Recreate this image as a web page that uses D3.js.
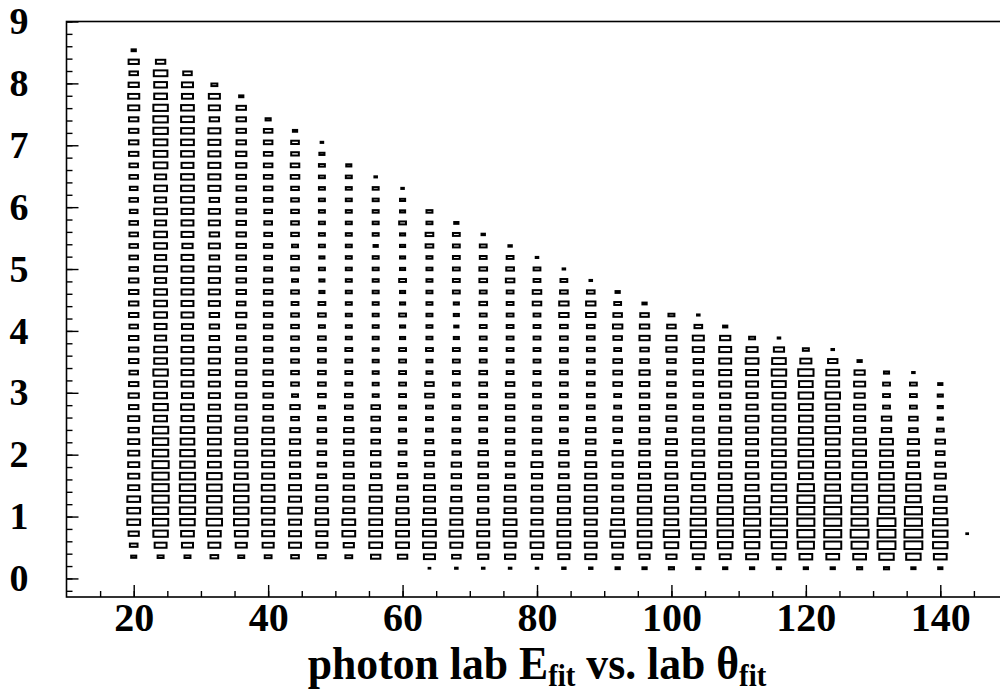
<!DOCTYPE html>
<html><head><meta charset="utf-8">
<script src="https://cdn.jsdelivr.net/npm/d3@7"></script>
<style>body{margin:0;background:#fff}svg{display:block}</style>
</head><body><svg id="c" width="1000" height="691"></svg>
<script>
// ---- data: photon lab theta_fit (x, bin centers) vs lab E_fit (y, bins of a 50-bin axis over [-0.3, 9])
const thetaCenters = [20,24,28,32,36,40,44,48,52,56,60,64,68,72,76,80,84,88,92,96,100,104,108,112,116,120,124,128,132,136,140,144];
const firstEBin = [3,3,3,3,3,3,3,3,3,3,3,2,2,2,2,2,2,2,2,2,2,2,2,2,2,2,2,2,2,2,2,5];
const c20 = [36,81,144,225,225,225,169,169,169,169,169,144,169,121,144,121,100,121,121,121,100,121,121,121,121,100,100,100,100,100,81,100,81,100,100,121,121,121,121,169,169,144,100,144,25];
const c24 = [49,196,289,324,324,361,361,361,361,324,324,324,225,289,225,225,289,225,225,169,196,225,225,225,169,225,169,225,225,169,225,169,225,169,256,256,256,289,289,289,225,225,256,121];
const c28 = [49,169,225,289,324,324,324,324,289,289,256,256,196,225,169,196,196,196,196,169,169,196,196,196,196,196,196,144,196,196,196,225,225,225,196,225,225,225,225,225,169,169,100];
const c32 = [81,196,225,324,289,289,289,289,225,225,225,225,225,169,169,169,169,169,169,121,121,121,169,169,169,169,121,169,121,169,169,121,196,196,196,196,196,196,121,169,169,49];
const c36 = [49,169,225,289,289,289,289,225,225,196,196,196,144,169,144,144,144,144,144,100,100,144,100,121,121,121,121,121,121,121,121,121,121,121,144,144,121,121,121,121,25];
const c40 = [64,169,196,196,225,225,225,196,196,196,196,169,121,121,121,121,121,100,100,100,100,100,100,100,100,81,81,100,81,81,81,100,100,100,100,100,100,100,36];
const c44 = [81,196,196,196,256,196,196,144,144,144,144,121,81,121,49,81,81,81,81,81,81,81,64,81,49,81,81,49,81,81,81,81,81,100,100,81,81,25];
const c48 = [81,169,169,225,196,169,169,100,100,100,100,100,81,49,81,81,81,81,81,81,49,81,64,36,36,49,36,49,49,49,49,49,49,49,49,36,9];
const c52 = [64,144,225,225,169,169,144,144,121,121,121,121,81,81,81,64,64,64,64,49,49,49,49,49,49,49,49,49,49,49,49,49,49,49,36];
const c56 = [121,225,225,225,225,196,196,121,121,121,100,100,100,100,49,49,49,49,49,49,49,49,49,49,49,49,49,25,49,49,49,49,49,9];
const c60 = [121,225,225,225,196,169,121,121,81,81,81,64,64,64,64,64,64,64,64,36,36,64,36,36,64,36,36,36,36,64,36,36,9];
const c64 = [4,169,225,225,225,169,169,169,121,100,121,81,64,64,64,100,100,49,49,64,49,49,49,49,49,49,49,49,81,81,49,49];
const c68 = [9,100,196,256,196,196,144,121,121,121,81,81,81,64,81,64,64,64,64,64,36,25,36,36,64,64,64,64,64,64,25];
const c72 = [9,144,196,196,196,144,144,144,121,121,121,81,81,81,81,81,81,81,64,64,64,64,64,81,64,81,81,64,64,16];
const c76 = [9,144,169,225,225,169,169,144,100,100,100,100,100,100,100,100,100,64,64,64,64,64,64,64,64,100,81,64,16];
const c80 = [9,144,225,225,169,169,169,144,144,169,100,100,100,100,81,81,81,64,64,64,64,64,64,100,100,64,64,9];
const c84 = [16,169,225,225,225,196,196,169,121,121,121,81,81,81,81,81,81,81,81,81,81,81,121,121,81,64,9];
const c88 = [16,169,196,196,196,225,196,196,169,169,121,121,121,81,81,81,81,81,81,81,81,81,121,121,81,9];
const c92 = [25,144,169,289,225,169,169,144,144,144,144,64,100,100,64,64,100,100,100,64,100,121,100,64,25];
const c96 = [25,144,256,256,256,256,225,225,169,169,144,144,121,121,121,121,121,144,100,100,144,121,100,25];
const c100 = [36,144,256,324,256,256,225,169,196,169,144,169,100,144,100,100,100,100,100,144,144,100,49];
const c104 = [25,169,289,324,324,289,256,196,256,169,196,169,169,121,121,121,121,121,121,169,169,81,9];
const c108 = [25,169,289,324,324,324,289,225,225,196,196,196,196,144,144,144,196,196,196,196,144,25];
const c112 = [25,196,289,324,361,324,289,225,225,196,196,196,196,225,169,169,196,196,225,169,49];
const c116 = [25,225,289,361,361,361,289,289,256,256,256,256,225,225,225,225,256,289,256,144,9];
const c120 = [25,225,361,400,400,400,400,361,256,289,289,289,256,256,256,289,256,324,169,49];
const c124 = [25,225,400,400,400,400,361,289,289,256,256,256,289,225,225,289,225,225,121,9];
const c128 = [36,225,361,441,361,361,324,289,289,225,225,225,169,169,169,144,169,144,25];
const c132 = [36,289,441,441,441,324,324,289,289,225,225,225,121,121,64,64,64,36];
const c136 = [25,289,441,441,400,400,289,289,256,169,169,169,100,100,64,64,64,9];
const c140 = [25,225,289,289,289,225,225,121,169,121,100,121,64,36,36,36,25];
const c144 = [4];
const columnCounts = [c20,c24,c28,c32,c36,c40,c44,c48,c52,c56,c60,c64,c68,c72,c76,c80,c84,c88,c92,c96,c100,c104,c108,c112,c116,c120,c124,c128,c132,c136,c140,c144];
const xTickValues = [20,40,60,80,100,120,140];
const yTickValues = [0,1,2,3,4,5,6,7,8,9];
const xDomain = [10,150], yDomain = [-0.3,9];
const nYBins = 50, thetaBinWidth = 4, zMax = 1000;

// ---- layout
const svg = d3.select("#c");
const L = 66.5, R = 1007.5, T = 21.5, B = 597;
const x = d3.scaleLinear().domain(xDomain).range([L,R]);
const y = d3.scaleLinear().domain(yDomain).range([B,T]);
const eBinWidth = (yDomain[1]-yDomain[0])/nYBins;
const binW = x(xDomain[0]+thetaBinWidth)-x(xDomain[0]);
const binH = y(yDomain[0])-y(yDomain[0]+eBinWidth);
const frac = d3.scaleSqrt().domain([0,zMax]).range([0,1]);
const SW = 2;

const cells = [];
columnCounts.forEach((arr,i)=>arr.forEach((c,j)=>{
  const k = firstEBin[i]+j;
  cells.push({theta:thetaCenters[i], e:yDomain[0]+(k+0.5)*eBinWidth, c});
}));

const bw = d=>Math.max(frac(d.c)*binW,0.3);
const bh = d=>Math.max(frac(d.c)*binH,0.3);
svg.append("g").selectAll("rect").data(cells).join("rect")
  .attr("x",d=>x(d.theta)-bw(d)/2)
  .attr("y",d=>y(d.e)-bh(d)/2)
  .attr("width",bw)
  .attr("height",bh)
  .attr("fill","#fff").attr("stroke","#000").attr("stroke-width",SW);

// frame
svg.append("rect").attr("x",L).attr("y",T).attr("width",R-L).attr("height",B-T)
  .attr("fill","none").attr("stroke","#000").attr("stroke-width",1.6);

const fontFam = "'Liberation Serif','Times New Roman',serif";
// y axis ticks (inward)
const yMinor = d3.range(-0.2, 9.001, 0.2).map(v=>+v.toFixed(1));
svg.append("g").attr("transform",`translate(${L},0)`)
  .call(d3.axisRight(y).tickValues(yMinor).tickSize(6).tickFormat(""))
  .call(g=>g.select(".domain").remove());
svg.append("g").attr("transform",`translate(${L},0)`)
  .call(d3.axisRight(y).tickValues(yTickValues).tickSize(12).tickFormat(""))
  .call(g=>g.select(".domain").remove());
svg.append("g").attr("transform",`translate(${L},0)`)
  .call(d3.axisLeft(y).tickValues(yTickValues).tickSize(0).tickPadding(38).tickFormat(d3.format("d")))
  .call(g=>g.select(".domain").remove())
  .selectAll("text").attr("font-family",fontFam).attr("font-weight","bold").attr("font-size",38).attr("fill","#000");

// x axis ticks (upward)
const xMinor = d3.range(15,150,5);
svg.append("g").attr("transform",`translate(0,${B})`)
  .call(d3.axisTop(x).tickValues(xMinor).tickSize(6).tickFormat(""))
  .call(g=>g.select(".domain").remove());
svg.append("g").attr("transform",`translate(0,${B})`)
  .call(d3.axisTop(x).tickValues(xTickValues).tickSize(12).tickFormat(""))
  .call(g=>g.select(".domain").remove());
svg.append("g").attr("transform",`translate(0,${B})`)
  .call(d3.axisBottom(x).tickValues(xTickValues).tickSize(0).tickPadding(6).tickFormat(d3.format("d")))
  .call(g=>g.select(".domain").remove())
  .selectAll("text").attr("font-family",fontFam).attr("font-weight","bold").attr("font-size",40).attr("fill","#000");
svg.selectAll(".tick line").attr("stroke","#000").attr("stroke-width",1.4);

// axis title
const title = svg.append("text").attr("text-anchor","middle")
  .attr("transform",`translate(${(L+R)/2},679) scale(0.93,1)`)
  .attr("font-family",fontFam).attr("font-weight","bold").attr("font-size",47).attr("fill","#000");
title.append("tspan").text("photon lab E");
title.append("tspan").attr("font-size",31).attr("dy",7).text("fit");
title.append("tspan").attr("dy",-7).text(" vs. lab \u03B8");
title.append("tspan").attr("font-size",31).attr("dy",7).text("fit");
</script></body></html>
